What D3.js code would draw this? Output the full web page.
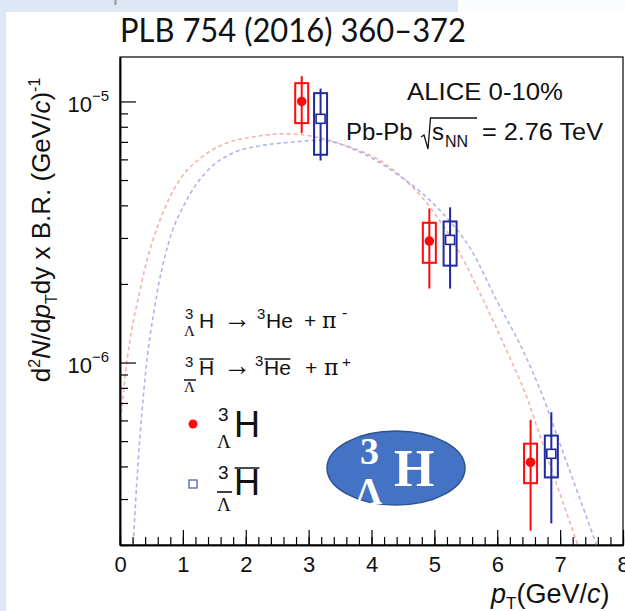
<!DOCTYPE html>
<html>
<head>
<meta charset="utf-8">
<script src="https://cdn.jsdelivr.net/npm/d3@7"></script>
<style>
  body { margin: 0; background: #fff; }
  svg { display: block; font-family: "Liberation Sans", Arial, sans-serif; }
</style>
</head>
<body>
<div id="chart"></div>
<script>
'use strict';

// hypertriton points (red)
const ptHyp = [2.89, 4.92, 6.53];
const yieldHyp = [1.0e-5, 2.92e-6, 4.15e-7];
const statLoHyp = [7.56e-6, 1.92e-6, 2.27e-7];
const statHiHyp = [1.25e-5, 3.89e-6, 6.03e-7];
const sysLoHyp = [8.26e-6, 2.41e-6, 3.45e-7];
const sysHiHyp = [1.175e-5, 3.43e-6, 4.89e-7];

// anti-hypertriton points (blue)
const ptAnti = [3.19, 5.25, 6.86];
const yieldAnti = [8.58e-6, 2.95e-6, 4.47e-7];
const statLoAnti = [5.94e-6, 1.92e-6, 2.42e-7];
const statHiAnti = [1.12e-5, 3.93e-6, 6.45e-7];
const sysLoAnti = [6.25e-6, 2.35e-6, 3.63e-7];
const sysHiAnti = [1.076e-5, 3.47e-6, 5.25e-7];

// dashed fit curves
const fitHypX = [0, 0.08, 0.34, 0.72, 0.98, 1.30, 1.67, 2.15, 2.65, 3.50, 4.29, 4.93, 5.41, 5.78, 6.15, 6.47, 6.65, 7.28];
const fitHypY = [5.65e-7, 8.79e-7, 2.0e-6, 3.94e-6, 5.13e-6, 6.12e-6, 6.89e-6, 7.34e-6, 7.52e-6, 6.89e-6, 5.6e-6, 3.94e-6, 2.61e-6, 1.73e-6, 1.11e-6, 7.36e-7, 5.5e-7, 2.0e-7];
const fitAntiX = [0.21, 0.29, 0.40, 0.56, 0.77, 1.03, 1.35, 1.78, 2.25, 2.73, 3.18, 3.76, 4.40, 5.09, 5.59, 5.99, 6.41, 6.73, 6.92, 7.58];
const fitAntiY = [2.03e-7, 4.22e-7, 8.79e-7, 1.68e-6, 2.86e-6, 4.06e-6, 5.3e-6, 6.32e-6, 6.78e-6, 6.98e-6, 7.1e-6, 6.49e-6, 5.28e-6, 3.82e-6, 2.69e-6, 1.73e-6, 1.11e-6, 7.36e-7, 5.5e-7, 2.0e-7];

const xTicks = [0, 1, 2, 3, 4, 5, 6, 7, 8];

const RED = '#ff0a0a', BLUE = '#1f2a9e';
const W = 625, H = 611;
const SERIF = '"Liberation Serif", "Times New Roman", serif';

const svg = d3.select('#chart').append('svg').attr('width', W).attr('height', H);

// slide background
svg.append('rect').attr('width', W).attr('height', H).attr('fill', '#dde7f5');
svg.append('rect').attr('x', 6).attr('y', 12).attr('width', W).attr('height', H).attr('fill', '#fff');
svg.append('rect').attr('x', 458).attr('y', 0).attr('width', W).attr('height', 12).attr('fill', '#fbfcfe');
svg.append('line').attr('x1', 115.5).attr('x2', 115.5).attr('y1', 0).attr('y2', 5)
    .attr('stroke', '#999').attr('stroke-width', 2);

svg.append('text').attr('x', 120).attr('y', 42)
    .attr('font-family', 'Lato, "Open Sans", sans-serif').attr('font-size', 32)
    .attr('textLength', 346).attr('lengthAdjust', 'spacingAndGlyphs')
    .attr('fill', '#111').text('PLB 754 (2016) 360–372');

const x = d3.scaleLinear().domain([0, 8]).range([120, 623]);
const y = d3.scaleLog().domain([2e-7, 1.48e-5]).range([545, 57]);

// frame
svg.append('rect').attr('x', 120).attr('y', 57).attr('width', 503).attr('height', 488)
    .attr('fill', 'none').attr('stroke', '#000').attr('stroke-width', 1.2);

svg.append('defs').append('clipPath').attr('id', 'plotclip')
    .append('rect').attr('x', 120).attr('y', 57).attr('width', 503).attr('height', 488);

// fit curves
const line = d3.line().x(d => x(d[0])).y(d => y(d[1])).curve(d3.curveMonotoneX);
const curves = svg.append('g').attr('clip-path', 'url(#plotclip)').attr('fill', 'none')
    .attr('stroke-width', 1.6).attr('stroke-dasharray', '4,3');
curves.append('path').attr('stroke', '#f5b3ab')
    .attr('d', line(fitHypX.map((v, i) => [v, fitHypY[i]])));
curves.append('path').attr('stroke', '#adb5ec')
    .attr('d', line(fitAntiX.map((v, i) => [v, fitAntiY[i]])));

// axes
const yAll = y.ticks();
const yMajor = yAll.filter(v => Math.abs(Math.log10(v) - Math.round(Math.log10(v))) < 1e-9);
const yMinor = yAll.filter(v => !yMajor.includes(v));

function styleAxis(g) {
    g.selectAll('path').attr('stroke', '#000').attr('stroke-width', 1.5);
    g.selectAll('line').attr('stroke', '#000').attr('stroke-width', 1.2);
}

svg.append('g').attr('transform', 'translate(120,0)')
    .call(d3.axisLeft(y).tickValues(yMinor).tickSize(-8).tickSizeOuter(0).tickFormat(''))
    .call(styleAxis);
svg.append('g').attr('transform', 'translate(120,0)')
    .call(d3.axisLeft(y).tickValues(yMajor).tickSize(-16).tickSizeOuter(0).tickFormat(''))
    .call(styleAxis);

svg.append('g').attr('transform', 'translate(0,545)')
    .call(d3.axisBottom(x).ticks(40).tickSize(-8).tickSizeOuter(0).tickFormat(''))
    .call(styleAxis);
svg.append('g').attr('transform', 'translate(0,545)')
    .call(d3.axisBottom(x).tickValues(xTicks).tickSize(-15).tickSizeOuter(0).tickPadding(11))
    .call(styleAxis)
    .call(g => g.selectAll('text').attr('font-size', 22).attr('font-family', '"Liberation Sans", Arial, sans-serif').attr('fill', '#111'));

yMajor.forEach(v => {
    const t = svg.append('text').attr('x', 109).attr('y', y(v) + 10.5)
        .attr('text-anchor', 'end').attr('font-size', 22).attr('fill', '#111');
    t.append('tspan').text('10');
    t.append('tspan').attr('dy', -11).attr('font-size', 15).text('−' + Math.round(-Math.log10(v)));
});

// axis titles
const yt = svg.append('text').attr('transform', 'translate(50,230) rotate(-90)')
    .attr('text-anchor', 'middle').attr('font-size', 26).attr('fill', '#111');
yt.append('tspan').text('d');
yt.append('tspan').attr('dy', -10).attr('font-size', 16).text('2');
yt.append('tspan').attr('dy', 10).attr('font-style', 'italic').text('N');
yt.append('tspan').text('/d');
yt.append('tspan').attr('font-style', 'italic').text('p');
yt.append('tspan').attr('dy', 7).attr('font-size', 16).text('T');
yt.append('tspan').attr('dy', -7).text('dy x B.R. (GeV/');
yt.append('tspan').attr('font-style', 'italic').text('c');
yt.append('tspan').text(')');
yt.append('tspan').attr('dy', -10).attr('font-size', 16).text('-1');

const xt = svg.append('text').attr('x', 491).attr('y', 603).attr('font-size', 27).attr('fill', '#111');
xt.append('tspan').attr('font-style', 'italic').text('p');
xt.append('tspan').attr('dy', 6).attr('font-size', 17).text('T');
xt.append('tspan').attr('dy', -6).text('(GeV/');
xt.append('tspan').attr('font-style', 'italic').text('c');
xt.append('tspan').text(')');

// data points
function drawSeries(pt, val, sLo, sHi, bLo, bHi, color, marker) {
    const rows = pt.map((p, i) => ({p, v: val[i], sLo: sLo[i], sHi: sHi[i], bLo: bLo[i], bHi: bHi[i]}));
    const g = svg.append('g');
    g.selectAll('line').data(rows).join('line')
        .attr('x1', d => x(d.p)).attr('x2', d => x(d.p))
        .attr('y1', d => y(d.sLo)).attr('y2', d => y(d.sHi))
        .attr('stroke', color).attr('stroke-width', 2);
    g.selectAll('rect.sys').data(rows).join('rect').attr('class', 'sys')
        .attr('x', d => x(d.p) - 6.5).attr('width', 13)
        .attr('y', d => y(d.bHi)).attr('height', d => y(d.bLo) - y(d.bHi))
        .attr('fill', 'none').attr('stroke', color).attr('stroke-width', 2);
    if (marker === 'circle') {
        g.selectAll('circle').data(rows).join('circle')
            .attr('cx', d => x(d.p)).attr('cy', d => y(d.v)).attr('r', 4.8).attr('fill', color);
    } else {
        g.selectAll('rect.mk').data(rows).join('rect').attr('class', 'mk')
            .attr('x', d => x(d.p) - 4.5).attr('y', d => y(d.v) - 4.5)
            .attr('width', 9).attr('height', 9)
            .attr('fill', '#fff').attr('stroke', color).attr('stroke-width', 1.6);
    }
}
drawSeries(ptHyp, yieldHyp, statLoHyp, statHiHyp, sysLoHyp, sysHiHyp, RED, 'circle');
drawSeries(ptAnti, yieldAnti, statLoAnti, statHiAnti, sysLoAnti, sysHiAnti, BLUE, 'square');

// ALICE labels
svg.append('text').attr('x', 407).attr('y', 100).attr('font-size', 24).attr('fill', '#111')
    .attr('textLength', 156).attr('lengthAdjust', 'spacingAndGlyphs').text('ALICE 0-10%');
svg.append('text').attr('x', 346).attr('y', 140).attr('font-size', 24).attr('fill', '#111').text('Pb-Pb');
svg.append('path').attr('d', 'M421,137 L424,135 L428,149 L430.5,118 L477,118')
    .attr('fill', 'none').attr('stroke', '#111').attr('stroke-width', 1.3);
svg.append('text').attr('x', 432).attr('y', 140).attr('font-size', 24).attr('fill', '#111').text('s');
svg.append('text').attr('x', 445).attr('y', 147).attr('font-size', 16).attr('fill', '#111').text('NN');
svg.append('text').attr('x', 482).attr('y', 140).attr('font-size', 24).attr('fill', '#111')
    .attr('textLength', 121).attr('lengthAdjust', 'spacingAndGlyphs').text('= 2.76 TeV');

// legend / decay labels
const leg = svg.append('g').attr('fill', '#111');
function put(t, px, py, size, family) {
    const el = leg.append('text').attr('x', px).attr('y', py).attr('font-size', size).text(t);
    if (family) el.attr('font-family', family);
    return el;
}
function overline(el, ly) {
    const b = el.node().getBBox();
    leg.append('line').attr('x1', b.x + 0.5).attr('x2', b.x + b.width - 0.5)
        .attr('y1', ly).attr('y2', ly).attr('stroke', '#111').attr('stroke-width', 1.5);
}
const PI = '"DejaVu Serif", "Liberation Serif", serif';

put('3', 185, 319, 15);
put('Λ', 184, 336, 15, SERIF);
put('H', 199, 328, 21);
put('→', 223, 328, 28, SERIF);
put('3', 257, 319, 15);
put('He', 266, 328, 21);
put('+', 304, 328, 21);
put('π', 322, 328, 22, PI);
put('-', 342, 318, 16);

put('3', 185, 367, 15);
leg.append('line').attr('x1', 184).attr('x2', 196).attr('y1', 380).attr('y2', 380)
    .attr('stroke', '#111').attr('stroke-width', 1.5);
put('Λ', 184, 392, 15, SERIF);
overline(put('H', 199, 375, 21), 359);
put('→', 223, 375, 28, SERIF);
put('3', 255, 366, 15);
overline(put('He', 264, 375, 21), 359);
put('+', 305, 375, 21);
put('π', 324, 375, 22, PI);
put('+', 342, 367, 15);

leg.append('circle').attr('cx', 193).attr('cy', 424).attr('r', 4.5).attr('fill', RED);
put('3', 218, 421, 19);
put('Λ', 217, 448, 19, SERIF);
put('H', 234, 437, 36);

leg.append('rect').attr('x', 189).attr('y', 480).attr('width', 8).attr('height', 8)
    .attr('fill', '#fff').attr('stroke', '#5a5ac8').attr('stroke-width', 1.3);
put('3', 218, 479, 19);
leg.append('line').attr('x1', 217).attr('x2', 232).attr('y1', 492).attr('y2', 492)
    .attr('stroke', '#111').attr('stroke-width', 1.6);
put('Λ', 217, 511, 19, SERIF);
overline(put('H', 234, 495, 36), 468);

// hypertriton badge
const badge = svg.append('g');
badge.append('ellipse').attr('cx', 396).attr('cy', 468).attr('rx', 69).attr('ry', 37)
    .attr('fill', '#4472c4').attr('stroke', '#2f528f').attr('stroke-width', 1.5);
badge.selectAll('text')
    .data([['3', 360, 464, 38], ['H', 394, 486, 52], ['Λ', 355, 504, 38]])
    .join('text')
    .attr('x', d => d[1]).attr('y', d => d[2]).attr('font-size', d => d[3])
    .attr('font-family', SERIF).attr('font-weight', 'bold')
    .attr('fill', '#fff').text(d => d[0]);
</script>
</body>
</html>
